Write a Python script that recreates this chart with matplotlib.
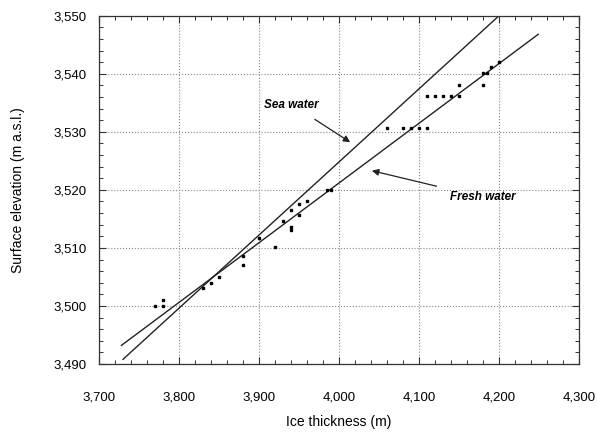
import numpy as np
import matplotlib
matplotlib.use("Agg")
import matplotlib.pyplot as plt
from matplotlib.ticker import MultipleLocator, FuncFormatter

plt.rcParams['font.family'] = ['Liberation Sans', 'DejaVu Sans']

# measured points: ice thickness (m), surface elevation (m a.s.l.)
thickness = [3770, 3780, 3780, 3830, 3840, 3850, 3880, 3880, 3900, 3920,
             3930, 3940, 3940, 3940, 3950, 3950, 3960, 3985, 3990,
             4060, 4080, 4090, 4100, 4110,
             4110, 4120, 4130, 4140, 4150, 4150, 4180, 4180, 4185, 4190, 4200]
elevation = [3500.0, 3500.0, 3501.0, 3503.1, 3504.0, 3505.0, 3508.6, 3507.1, 3511.7, 3510.1,
             3514.6, 3516.6, 3513.6, 3513.1, 3517.6, 3515.6, 3518.1, 3519.9, 3519.9,
             3530.6, 3530.6, 3530.6, 3530.6, 3530.6,
             3536.1, 3536.1, 3536.1, 3536.1, 3536.1, 3538.1, 3538.1, 3540.2, 3540.2, 3541.1, 3542.0]

# floatation lines (end points)
sea_x = [3730, 4200]
sea_y = [3490.8, 3550.0]
fresh_x = [3728, 4249]
fresh_y = [3493.2, 3546.8]

fig = plt.figure(figsize=(5.97, 4.32), dpi=100)
ax = fig.add_axes([0.1658, 0.1574, 0.8042, 0.8063])

ax.plot(sea_x, sea_y, color='#222222', lw=1.0)
ax.plot(fresh_x, fresh_y, color='#222222', lw=1.0)
ax.plot(thickness, elevation, 's', color='black', markersize=2.1, mec='black')

ax.set_xlim(3700, 4300)
ax.set_ylim(3490, 3550)
ax.xaxis.set_major_locator(MultipleLocator(100))
ax.xaxis.set_minor_locator(MultipleLocator(20))
ax.yaxis.set_major_locator(MultipleLocator(10))
ax.yaxis.set_minor_locator(MultipleLocator(2))
fmt = FuncFormatter(lambda v, p: '{:,.0f}'.format(v))
ax.xaxis.set_major_formatter(fmt)
ax.yaxis.set_major_formatter(fmt)

ax.tick_params(which='both', direction='in', top=True, right=True, color='#333333')
ax.tick_params(which='major', length=5, width=0.8)
ax.tick_params(which='minor', length=3, width=0.7)
ax.tick_params(axis='x', which='major', pad=20, labelsize=9.5)
ax.tick_params(axis='y', which='major', pad=9, labelsize=9.5)
ax.grid(True, which='major', linestyle=':', color='#888888', lw=0.8)
for s in ax.spines.values():
    s.set_linewidth(0.9)
    s.set_color('#333333')

ax.set_xlabel('Ice thickness (m)', fontsize=10, labelpad=8)
ax.set_ylabel('Surface elevation (m a.s.l.)', fontsize=10, labelpad=20)

ax.annotate('Sea water', xy=(4014, 3528.2), xytext=(3941, 3534.7),
            ha='center', va='center', fontsize=8.5, style='italic', fontweight='bold',
            arrowprops=dict(arrowstyle='-|>', color='#222222', lw=0.9,
                            shrinkA=8, shrinkB=0, mutation_scale=10))
ax.annotate('Fresh water', xy=(4041, 3523.3), xytext=(4180, 3518.7),
            ha='center', va='center', fontsize=8.5, style='italic', fontweight='bold',
            arrowprops=dict(arrowstyle='-|>', color='#222222', lw=0.9,
                            shrinkA=8, shrinkB=0, mutation_scale=10))

fig.savefig('out.png', dpi=100)
